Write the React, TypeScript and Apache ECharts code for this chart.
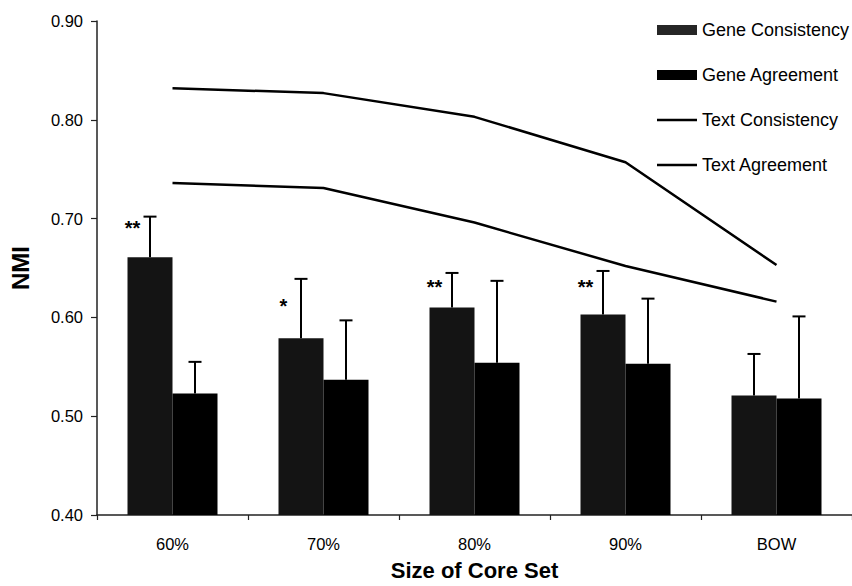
import React, { useEffect, useRef } from "react";
import * as echarts from "echarts";

const categories = ["60%", "70%", "80%", "90%", "BOW"];
const geneConsistency = [0.661, 0.579, 0.61, 0.603, 0.521];
const geneConsistencyErrTop = [0.702, 0.639, 0.645, 0.647, 0.563];
const geneAgreement = [0.523, 0.537, 0.554, 0.553, 0.518];
const geneAgreementErrTop = [0.555, 0.597, 0.637, 0.619, 0.601];
const textConsistency = [0.832, 0.827, 0.803, 0.757, 0.653];
const textAgreement = [0.736, 0.731, 0.696, 0.652, 0.616];
const starLabels = ["**", "*", "**", "**", ""];
const starValues = [0.693, 0.614, 0.633, 0.633, 0];
const yTicks = { min: 0.4, max: 0.9, interval: 0.1 };

const FONT = "'Liberation Sans', Arial, sans-serif";
const BAR_W = 45;
const LINE_ICON = "path://M0 0H40V0.01H0Z M0 3.8H40V6.2H0Z M0 9.99H40V10H0Z";

export default function App() {
  const ref = useRef<HTMLDivElement>(null);
  useEffect(() => {
    document.body.style.margin = "0";
    if (!ref.current) return;
    const chart = echarts.init(ref.current, null, { renderer: "svg" });

    const errData: number[][] = [];
    geneConsistency.forEach((v, i) => errData.push([i, v, geneConsistencyErrTop[i], -1]));
    geneAgreement.forEach((v, i) => errData.push([i, v, geneAgreementErrTop[i], 1]));

    const starData = starValues
      .map((v, i) => [i, v, i])
      .filter((d) => starLabels[d[2]] !== "");

    const option: any = {
      animation: false,
      backgroundColor: "#fff",
      textStyle: { fontFamily: FONT },
      grid: { left: 96, right: -4, top: 21, bottom: 62 },
      legend: {
        orient: "vertical",
        left: 657,
        top: 21,
        padding: 0,
        itemWidth: 40,
        itemHeight: 10,
        itemGap: 27,
        textStyle: { fontSize: 18, color: "#000", fontFamily: FONT },
        data: [
          { name: "Gene Consistency", icon: "rect", itemStyle: { color: "#262626" } },
          { name: "Gene Agreement", icon: "rect" },
          { name: "Text Consistency", icon: LINE_ICON, itemStyle: { color: "#000" } },
          { name: "Text Agreement", icon: LINE_ICON, itemStyle: { color: "#000" } },
        ],
      },
      xAxis: {
        type: "category",
        data: categories,
        boundaryGap: true,
        axisLine: { show: true, lineStyle: { color: "#222", width: 1.5 } },
        axisTick: { show: true, length: 5, lineStyle: { color: "#222", width: 1.2 } },
        axisLabel: { color: "#000", fontSize: 16.5, margin: 20, fontFamily: FONT },
        name: "Size of Core Set",
        nameLocation: "middle",
        nameGap: 44,
        nameTextStyle: { fontSize: 22, fontWeight: "bold", color: "#000", fontFamily: FONT },
      },
      yAxis: {
        type: "value",
        min: yTicks.min,
        max: yTicks.max,
        interval: yTicks.interval,
        splitLine: { show: false },
        axisLine: { show: true, lineStyle: { color: "#222", width: 1.5 } },
        axisTick: { show: true, length: 6, lineStyle: { color: "#222", width: 1.2 } },
        axisLabel: {
          color: "#000",
          fontSize: 16.5,
          margin: 14,
          fontFamily: FONT,
          formatter: (v: number) => v.toFixed(2),
        },
        name: "NMI",
        nameLocation: "middle",
        nameGap: 65,
        nameTextStyle: { fontSize: 24, fontWeight: "bold", color: "#000", fontFamily: FONT },
      },
      series: [
        {
          name: "Gene Consistency",
          type: "bar",
          data: geneConsistency,
          barWidth: BAR_W,
          barGap: "0%",
          itemStyle: { color: "#141414" },
        },
        {
          name: "Gene Agreement",
          type: "bar",
          data: geneAgreement,
          barWidth: BAR_W,
          barGap: "0%",
          itemStyle: { color: "#000" },
        },
        {
          name: "Text Consistency",
          type: "line",
          data: textConsistency,
          symbol: "none",
          lineStyle: { color: "#000", width: 2.5 },
          itemStyle: { color: "#000" },
          z: 3,
        },
        {
          name: "Text Agreement",
          type: "line",
          data: textAgreement,
          symbol: "none",
          lineStyle: { color: "#000", width: 2.5 },
          itemStyle: { color: "#000" },
          z: 3,
        },
        {
          name: "errors",
          type: "custom",
          data: errData,
          z: 4,
          renderItem: (params: any, api: any) => {
            const i = api.value(0);
            const side = api.value(3);
            const low = api.coord([i, api.value(1)]);
            const high = api.coord([i, api.value(2)]);
            const x = low[0] + (side * BAR_W) / 2;
            return {
              type: "group",
              children: [
                {
                  type: "line",
                  shape: { x1: x, y1: low[1], x2: x, y2: high[1] },
                  style: { stroke: "#000", lineWidth: 2 },
                },
                {
                  type: "line",
                  shape: { x1: x - 6.5, y1: high[1], x2: x + 6.5, y2: high[1] },
                  style: { stroke: "#000", lineWidth: 2 },
                },
              ],
            };
          },
        },
        {
          name: "stars",
          type: "custom",
          data: starData,
          z: 4,
          renderItem: (params: any, api: any) => {
            const i = api.value(0);
            const p = api.coord([i, api.value(1)]);
            return {
              type: "text",
              x: p[0] - 40,
              y: p[1] + 2,
              style: {
                text: starLabels[api.value(2)],
                fill: "#000",
                font: `bold 20px ${FONT}`,
                align: "center",
                verticalAlign: "middle",
              },
            };
          },
        },
      ],
    };
    chart.setOption(option);
    return () => chart.dispose();
  }, []);
  return <div ref={ref} style={{ width: 852, height: 586 }} />;
}
